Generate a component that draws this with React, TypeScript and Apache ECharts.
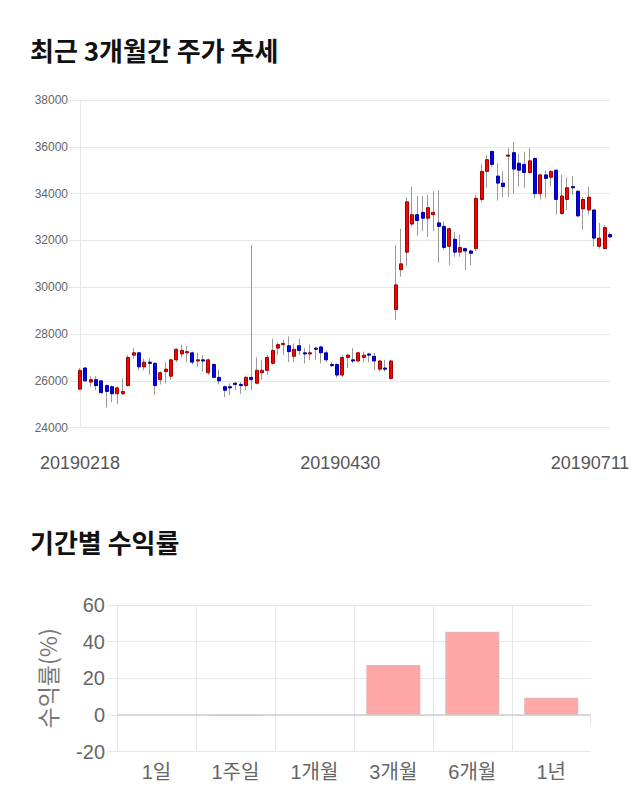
import React, { useEffect, useRef } from "react";
import * as echarts from "echarts";

const dates = [
  "20190218","20190219","20190220","20190221","20190222","20190225","20190226","20190227","20190228",
  "20190304","20190305","20190306","20190307","20190308","20190311","20190312","20190313","20190314","20190315",
  "20190318","20190319","20190320","20190321","20190322","20190325","20190326","20190327","20190328","20190329",
  "20190401","20190402","20190403","20190404","20190405","20190408","20190409","20190410","20190411","20190412",
  "20190415","20190416","20190417","20190418","20190419","20190422","20190423","20190424","20190425","20190426",
  "20190429","20190430",
  "20190502","20190503","20190507","20190508","20190509","20190510","20190513","20190514","20190515","20190516",
  "20190517","20190520","20190521","20190522","20190523","20190524","20190527","20190528","20190529","20190530","20190531",
  "20190603","20190604","20190605","20190607","20190610","20190611","20190612","20190613","20190614",
  "20190617","20190618","20190619","20190620","20190621","20190624","20190625","20190626","20190627","20190628",
  "20190701","20190702","20190703","20190704","20190705","20190708","20190709","20190710","20190711",
];

const opens = [
  25650, 26550, 25950, 26050, 26000, 25800, 25750, 25450, 25450, 25800,
  27100, 27200, 26600, 26800, 26750, 26050, 26400, 26200, 26900, 27150,
  27200, 27200, 26850, 26900, 26350, 26700, 26150, 25750, 25750, 25900,
  25850, 25800, 26150, 25900, 26350, 26450, 26750, 27400, 27550, 27500,
  27050, 27500, 27200, 27150, 27400, 27450, 27200, 26700, 26700, 26250,
  27000, 26900, 26850, 27000, 27150, 27050, 26500, 26550, 26100, 29050,
  30750, 31500, 32700, 33100, 33200, 32950, 33100, 32750, 32600, 31750,
  32050, 31500, 31650, 31550, 31650, 33750, 34950, 35800, 34750, 34450,
  35600, 35750, 35300, 35250, 34900, 35500, 34000, 34800, 34700, 35000,
  33150, 33750, 34300, 34100, 33350, 33300, 33300, 31750, 31650, 32250,
];

const closes = [
  26450, 26000, 26050, 25800, 25500, 25550, 25450, 25700, 25550, 27000,
  27200, 26600, 26800, 26750, 25800, 26350, 26500, 26900, 27350, 27300,
  27250, 26800, 26900, 26850, 26900, 26150, 26000, 25600, 25700, 25850,
  25800, 26150, 26050, 26450, 26450, 27000, 27300, 27550, 27600, 27250,
  27350, 27300, 27150, 27200, 27350, 27200, 26900, 26650, 26250, 27000,
  27100, 26850, 27200, 27100, 27100, 26850, 26850, 26500, 26850, 30100,
  31000, 33650, 33100, 32850, 32950, 33400, 33200, 32600, 31700, 32500,
  31500, 31700, 31550, 31450, 33800, 34950, 35450, 35250, 34450, 34300,
  35650, 35050, 35000, 34900, 35400, 34000, 34800, 34650, 34950, 33750,
  33900, 34250, 34250, 33050, 33750, 33850, 32100, 32100, 32550, 32150,
];

const lows = [
  25600, 25950, 25750, 25600, 25450, 24850, 25100, 25000, 25400, 25750,
  26950, 26450, 26450, 26250, 25400, 25850, 25900, 26050, 26800, 27000,
  26800, 26700, 26600, 26400, 26250, 26100, 25850, 25300, 25400, 25600,
  25450, 25600, 25600, 25850, 26050, 26250, 26700, 27100, 27100, 26800,
  26800, 27100, 26750, 26900, 26900, 26750, 26800, 26600, 26150, 26150,
  26550, 26750, 26800, 26800, 26800, 26450, 26400, 26400, 26050, 28600,
  30450, 30900, 32600, 32200, 32400, 32150, 32400, 31050, 31600, 30950,
  31300, 31300, 30750, 30950, 31550, 33650, 34250, 35150, 33700, 33850,
  33850, 34000, 34300, 34250, 34850, 33800, 33750, 33800, 34300, 33100,
  33100, 33300, 33950, 33000, 32450, 33100, 31750, 31650, 31650, 32100,
];

const highs = [
  26550, 26600, 26200, 26200, 26050, 25850, 25800, 25750, 26100, 27100,
  27400, 27250, 26950, 26950, 26800, 26400, 26800, 26950, 27400, 27550,
  27500, 27250, 27200, 27100, 26950, 26750, 26500, 25800, 25900, 25950,
  25950, 26200, 31800, 27000, 26900, 27100, 27800, 27650, 27750, 27900,
  27600, 27800, 27400, 27550, 27450, 27500, 27300, 26800, 26750, 27100,
  27150, 27400, 27250, 27250, 27200, 27200, 26900, 26900, 26900, 31800,
  32500, 33850, 34300, 33900, 33900, 33950, 34100, 34150, 32800, 32550,
  32350, 32250, 31700, 31600, 33950, 35250, 35650, 35850, 35300, 34950,
  35950, 36200, 35700, 35800, 35950, 35550, 34850, 35000, 35000, 35050,
  34800, 34700, 34750, 34150, 33850, 34300, 33350, 32750, 32650, 32350,
];

const dateLabelIndexes = [0, 50, 99];
const priceMin = 24000;
const priceMax = 38000;
const priceStep = 2000;

const periods = ["1일", "1주일", "1개월", "3개월", "6개월", "1년"];
const returns = [0, -0.3, 0, 27.3, 45.4, 9.4];
const returnMin = -20;
const returnMax = 60;
const returnStep = 20;

const SANS = "'Liberation Sans', 'Noto Sans CJK KR', sans-serif";
const KR = "'Noto Sans CJK KR', sans-serif";

export default function App() {
  const ref = useRef<HTMLDivElement>(null);

  useEffect(() => {
    const chart = echarts.init(ref.current!, null, { renderer: "svg" });

    const wickData = dates.map((_, i) => [opens[i], closes[i], lows[i], highs[i]]);
    const bodyData = dates.map((_, i) => [
      opens[i],
      closes[i],
      Math.min(opens[i], closes[i]),
      Math.max(opens[i], closes[i]),
    ]);

    const gridColor = "#e6e6e6";

    const option: any = {
      animation: false,
      backgroundColor: "#ffffff",
      title: [
        {
          text: "최근 3개월간 주가 추세",
          left: 30,
          top: 36,
          padding: 0,
          textStyle: { fontSize: 26, fontWeight: "bold", color: "#111", fontFamily: KR },
        },
        {
          text: "기간별 수익률",
          left: 30,
          top: 528,
          padding: 0,
          textStyle: { fontSize: 26, fontWeight: "bold", color: "#111", fontFamily: KR },
        },
      ],
      grid: [
        { left: 80, top: 100, width: 530, height: 327.7 },
        { left: 117, top: 605, width: 473.7, height: 146.7 },
      ],
      xAxis: [
        {
          type: "category",
          gridIndex: 0,
          data: dates,
          boundaryGap: false,
          axisLine: { show: false },
          axisTick: { show: false },
          splitLine: { show: false },
          axisLabel: {
            interval: (i: number) => dateLabelIndexes.includes(i),
            showMinLabel: true,
            showMaxLabel: true,
            margin: 26,
            fontSize: 18,
            color: "#555",
            fontFamily: SANS,
            formatter: (v: string, i: number) =>
              i === dateLabelIndexes[0] ? `{a|${v}}` : i === dateLabelIndexes[2] ? `{c|${v}}` : `{b|${v}}`,
            rich: {
              a: { fontSize: 18, color: "#555", fontFamily: SANS },
              b: { fontSize: 18, color: "#555", fontFamily: SANS, padding: [0, 15, 0, 0] },
              c: { fontSize: 18, color: "#555", fontFamily: SANS, padding: [0, 40, 0, 0] },
            },
          },
        },
        {
          type: "category",
          gridIndex: 1,
          data: periods,
          boundaryGap: true,
          axisLine: { show: true, lineStyle: { color: gridColor } },
          axisTick: { show: true, length: 10, lineStyle: { color: gridColor } },
          splitLine: { show: true, showMaxLine: false, lineStyle: { color: gridColor } },
          axisLabel: { fontSize: 20, color: "#666", margin: 10, fontFamily: SANS },
        },
      ],
      yAxis: [
        {
          type: "value",
          gridIndex: 0,
          min: priceMin,
          max: priceMax,
          interval: priceStep,
          axisLine: { show: true, lineStyle: { color: gridColor } },
          axisTick: { show: true, length: 11, lineStyle: { color: gridColor } },
          splitLine: { show: true, lineStyle: { color: gridColor } },
          axisLabel: {
            fontSize: 12,
            color: "#666",
            margin: 12,
            fontFamily: SANS,
            formatter: (v: number) => String(v),
          },
        },
        {
          type: "value",
          gridIndex: 1,
          min: returnMin,
          max: returnMax,
          interval: returnStep,
          name: "수익률(%)",
          nameLocation: "middle",
          nameRotate: 90,
          nameGap: 59,
          nameTextStyle: { fontSize: 23, color: "#777", fontFamily: KR },
          axisLine: { show: true, lineStyle: { color: gridColor } },
          axisTick: { show: true, length: 10, lineStyle: { color: gridColor } },
          splitLine: { show: true, lineStyle: { color: gridColor } },
          axisLabel: { fontSize: 20, color: "#666", margin: 12, fontFamily: SANS },
        },
      ],
      series: [
        {
          name: "wick",
          type: "candlestick",
          xAxisIndex: 0,
          yAxisIndex: 0,
          data: wickData,
          barWidth: 1,
          clip: true,
          silent: true,
          itemStyle: {
            color: "#9a9a9a",
            color0: "#9a9a9a",
            borderColor: "#9a9a9a",
            borderColor0: "#9a9a9a",
            borderWidth: 1,
          },
        },
        {
          name: "body",
          type: "candlestick",
          xAxisIndex: 0,
          yAxisIndex: 0,
          data: bodyData,
          barWidth: 3.5,
          clip: true,
          silent: true,
          itemStyle: {
            color: "#ff0000",
            color0: "#0000ff",
            borderColor: "#990000",
            borderColor0: "#000099",
            borderWidth: 1,
          },
        },
        {
          name: "returns",
          type: "bar",
          xAxisIndex: 1,
          yAxisIndex: 1,
          barWidth: 54,
          data: returns.map((v) => ({
            value: v,
            itemStyle:
              v > 0
                ? { color: "#ffa6a6", borderColor: "#e8b2b2", borderWidth: 1.5 }
                : v < 0
                ? { color: "rgba(54,162,235,0.3)", borderColor: "rgba(54,162,235,0.3)", borderWidth: 1 }
                : { color: "rgba(0,0,0,0)", borderWidth: 0 },
          })),
          markLine: {
            silent: true,
            symbol: "none",
            label: { show: false },
            lineStyle: { color: "#cfcfcf", width: 1.5, type: "solid" },
            data: [{ yAxis: 0 }],
          },
        },
      ],
    };

    chart.setOption(option);
    return () => chart.dispose();
  }, []);

  return (
    <div
      ref={ref}
      style={{ position: "absolute", left: 0, top: 0, width: 640, height: 810, background: "#fff" }}
    />
  );
}
